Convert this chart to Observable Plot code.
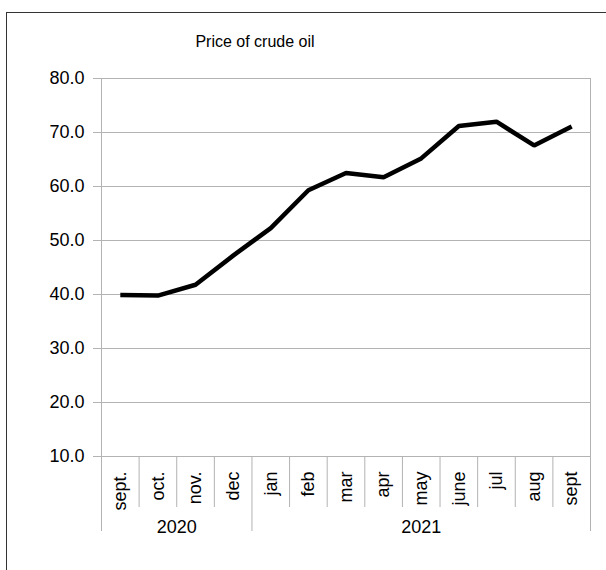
<!DOCTYPE html>
<html>
<head>
<meta charset="utf-8">
<script src="https://cdn.jsdelivr.net/npm/d3@7"></script>
<script src="https://cdn.jsdelivr.net/npm/@observablehq/plot@0.6"></script>
<style>
  html, body { margin: 0; padding: 0; background: #fff; }
  #wrap { position: relative; width: 606px; height: 570px; overflow: hidden; font-family: "Liberation Sans", Arial, sans-serif; }
  #frame { position: absolute; left: 6px; top: 12px; width: 620px; height: 600px; border: 1px solid #333; box-sizing: border-box; }
  #title { position: absolute; top: 33px; left: 155px; width: 200px; text-align: center; font-size: 16px; color: #000; }
  #chart { position: absolute; left: 0; top: 0; }
</style>
</head>
<body>
<div id="wrap">
  <div id="frame"></div>
  <div id="title">Price of crude oil</div>
  <div id="chart"></div>
</div>
<script>
const months = ["sept.", "oct.", "nov.", "dec", "jan", "feb", "mar", "apr", "may", "june", "jul", "aug", "sept"];
const years = ["2020", "2020", "2020", "2020", "2021", "2021", "2021", "2021", "2021", "2021", "2021", "2021", "2021"];
const prices = [39.9, 39.8, 41.8, 47.2, 52.3, 59.3, 62.5, 61.7, 65.2, 71.2, 72.0, 67.6, 71.1];
const yTicks = [10, 20, 30, 40, 50, 60, 70, 80];

const data = months.map((m, i) => ({i, month: m, year: years[i], price: prices[i]}));

// year groups
const groups = [];
years.forEach((y, i) => {
  const g = groups[groups.length - 1];
  if (g && g.year === y) g.end = i; else groups.push({year: y, start: i, end: i});
});
const yearEdges = [groups[0].start - 0.5, ...groups.map(g => g.end + 0.5)];
const monthEdges = d3.range(months.length + 1).map(i => i - 0.5).filter(e => !yearEdges.includes(e));
const outerEdges = [yearEdges[0], yearEdges[yearEdges.length - 1]];
const innerYearEdges = yearEdges.slice(1, -1);

const W = 606, H = 570, mL = 101, mR = 16, mT = 78, mB = 114;
const plotH = H - mT - mB;
const gray = "#b3b3b3";

const chart = Plot.plot({
  width: W,
  height: H,
  marginLeft: mL,
  marginRight: mR,
  marginTop: mT,
  marginBottom: mB,
  style: {background: "transparent", fontFamily: "'Liberation Sans', Arial, sans-serif", color: "#000", overflow: "visible"},
  x: {domain: [-0.5, months.length - 0.5], axis: null},
  y: {domain: [10, 80], axis: null},
  marks: [
    Plot.ruleY(yTicks, {y: d => d, stroke: gray, strokeWidth: 1, insetLeft: -8}),
    Plot.ruleX(outerEdges, {x: d => d, stroke: gray, strokeWidth: 1, insetBottom: -75}),
    Plot.ruleX(innerYearEdges, {x: d => d, stroke: gray, strokeWidth: 1, insetTop: plotH, insetBottom: -75}),
    Plot.ruleX(monthEdges, {x: d => d, stroke: gray, strokeWidth: 1, insetTop: plotH, insetBottom: -51}),
    Plot.text(yTicks, {y: d => d, text: d => d3.format(".1f")(d), frameAnchor: "left", textAnchor: "end", lineAnchor: "middle", dx: -17, fontSize: 18, fill: "#000"}),
    Plot.text(data, {x: "i", text: "month", frameAnchor: "bottom", rotate: -90, textAnchor: "end", lineAnchor: "middle", dy: 15, fontSize: 18, fill: "#000"}),
    Plot.text(groups, {x: g => (g.start + g.end) / 2, text: "year", frameAnchor: "bottom", lineAnchor: "middle", dy: 71, fontSize: 18, fill: "#000"}),
    Plot.line(data, {x: "i", y: "price", stroke: "#000", strokeWidth: 4.5, strokeLinejoin: "miter", strokeLinecap: "butt"})
  ]
});
document.getElementById("chart").appendChild(chart);
</script>
</body>
</html>
